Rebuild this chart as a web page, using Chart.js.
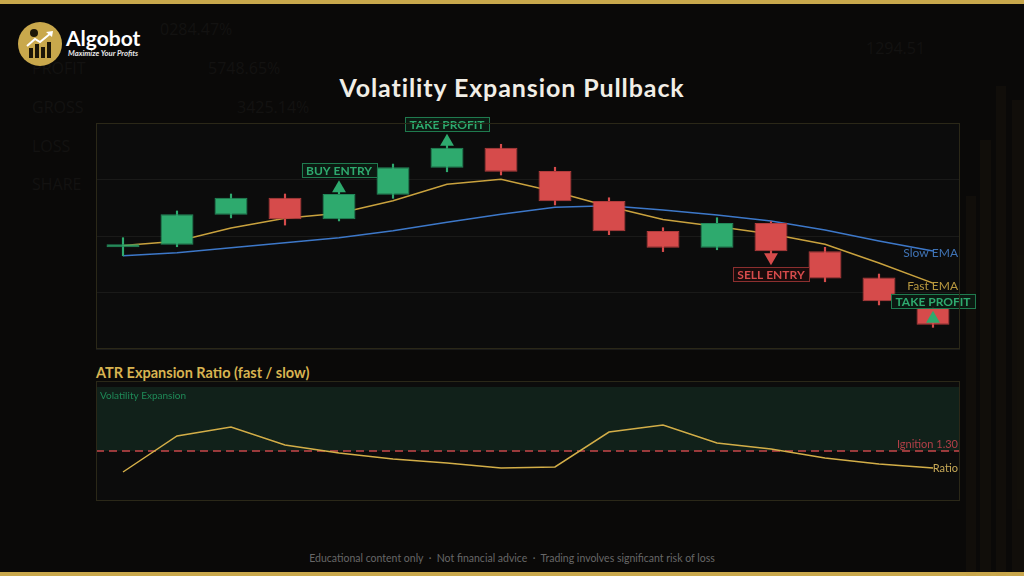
<!DOCTYPE html>
<html>
<head>
<meta charset="utf-8">
<script src="https://cdn.jsdelivr.net/npm/chart.js@4.4.0/dist/chart.umd.min.js"></script>
<style>
  html, body { margin: 0; padding: 0; }
  body {
    width: 1024px; height: 576px; overflow: hidden; position: relative;
    background: #0a0908; font-family: Lato, 'Open Sans', sans-serif;
  }
  .gold-strip { position: absolute; left: 0; width: 1024px; height: 4px; background: #c9a84c; }
  .ghost { position: absolute; color: #131211; font-family: 'Open Sans', sans-serif; font-size: 16px; }
  .bgbar { position: absolute; background: rgba(190, 150, 60, 0.045); }
  #logo { position: absolute; left: 18px; top: 22px; }
  #brand { position: absolute; left: 66px; top: 26px; color: #fff; font-weight: bold; font-size: 21px; line-height: 24px; }
  #tagline { position: absolute; left: 68px; top: 48px; color: #e8e8e8; font-weight: bold; font-style: italic; font-size: 7.7px; line-height: 10px; }
  #title { position: absolute; left: 0; width: 1024px; top: 72px; text-align: center; color: #f1eee6; font-weight: bold; font-size: 25px; letter-spacing: 0.9px; line-height: 30px; }
  #subtitle { position: absolute; left: 96px; top: 364px; color: #d8b451; font-weight: bold; font-size: 14.5px; line-height: 18px; }
  #footer { position: absolute; left: 0; width: 1024px; top: 551px; text-align: center; color: #676767; font-size: 10.5px; line-height: 14px; white-space: pre; }
  canvas { position: absolute; left: 0; }
</style>
</head>
<body>
<div class="gold-strip" style="top:0"></div>
<div class="gold-strip" style="top:572px"></div>

<div class="ghost" style="left:160px;top:18px">0284.47%</div>
<div class="ghost" style="left:32px;top:57px">PROFIT</div>
<div class="ghost" style="left:208px;top:57px">5748.65%</div>
<div class="ghost" style="left:32px;top:96px">GROSS</div>
<div class="ghost" style="left:237px;top:96px">3425.14%</div>
<div class="ghost" style="left:32px;top:135px">LOSS</div>
<div class="ghost" style="left:32px;top:173px">SHARE</div>
<div class="ghost" style="left:866px;top:37px">1294.51</div>
<div class="bgbar" style="left:966px;top:196px;width:10px;height:380px"></div>
<div class="bgbar" style="left:980px;top:140px;width:11px;height:436px"></div>
<div class="bgbar" style="left:996px;top:86px;width:10px;height:490px"></div>
<div class="bgbar" style="left:1012px;top:100px;width:12px;height:476px"></div>

<svg id="logo" width="44" height="44" viewBox="0 0 44 44">
  <circle cx="22" cy="22" r="22" fill="#c9a84c"/>
  <rect x="11" y="26" width="4" height="10" fill="#1c1608"/>
  <rect x="17" y="22" width="4" height="14" fill="#1c1608"/>
  <rect x="23" y="25" width="4" height="11" fill="#1c1608"/>
  <rect x="29" y="20" width="4" height="16" fill="#1c1608"/>
  <polyline points="9,24 17,17 22,20 33,11" fill="none" stroke="#fff" stroke-width="2"/>
  <polygon points="35,9 28,10 34,15" fill="#fff"/>
  <circle cx="16" cy="11" r="4" fill="#1c1608"/>
</svg>
<div id="brand">Algobot</div>
<div id="tagline">Maximize Your Profits</div>

<div id="title">Volatility Expansion Pullback</div>
<canvas id="priceChart" width="1024" height="250" style="top:110px"></canvas>
<div id="subtitle">ATR Expansion Ratio (fast / slow)</div>
<canvas id="ratioChart" width="1024" height="130" style="top:376px"></canvas>
<div id="footer">Educational content only  ·  Not financial advice  ·  Trading involves significant risk of loss</div>

<script>
'use strict';

// candles
const barLabels = ['1', '2', '3', '4', '5', '6', '7', '8', '9', '10', '11', '12', '13', '14', '15', '16'];
const openVals  = [105.40, 105.54, 107.13, 108.03, 106.89, 108.19, 109.63, 110.69, 109.45, 107.86, 106.27, 105.38, 106.69, 105.19, 103.79, 102.19];
const highVals  = [105.91, 107.33, 108.23, 108.23, 108.39, 109.82, 110.83, 110.87, 109.65, 108.03, 106.44, 106.97, 106.76, 105.40, 103.98, 102.39];
const lowVals   = [104.95, 105.43, 106.96, 106.58, 106.80, 108.00, 109.41, 109.24, 107.65, 106.07, 105.17, 105.27, 105.04, 103.57, 102.34, 101.15];
const closeVals = [105.56, 107.15, 108.03, 106.89, 108.23, 109.65, 110.69, 109.41, 107.84, 106.25, 105.38, 106.69, 105.19, 103.75, 102.53, 101.29];

// moving averages
const fastEma = [105.49, 105.72, 106.42, 106.94, 107.21, 107.87, 108.75, 109.01, 108.35, 107.57, 106.88, 106.50, 106.11, 105.56, 104.57, 103.50];
const slowEma = [104.95, 105.11, 105.38, 105.64, 105.91, 106.28, 106.73, 107.15, 107.52, 107.61, 107.38, 107.12, 106.80, 106.32, 105.73, 105.20];

// signals
const signalBar   = [4, 6, 12, 15];
const signalText  = ['BUY ENTRY', 'TAKE PROFIT', 'SELL ENTRY', 'TAKE PROFIT'];
const signalDir   = ['up', 'up', 'down', 'up'];
const signalPrice = [108.53, 111.00, 104.87, 101.60];

// ATR ratio panel
const atrRatio = [1.09, 1.45, 1.54, 1.36, 1.28, 1.22, 1.18, 1.13, 1.14, 1.49, 1.56, 1.38, 1.32, 1.23, 1.17, 1.13];
const ignitionLevel = 1.30;
const expansionTop = 1.94;

const GREEN = '#2eaa6e', GREEN_EDGE = '#23875a';
const RED = '#d64b4b', RED_EDGE = '#b13c3c';
const FONT = 'Lato, "Open Sans", sans-serif';

const isUp = barLabels.map((_, i) => closeVals[i] >= openVals[i]);
const markerData = barLabels.map(() => null);
signalBar.forEach((b, k) => { markerData[b] = signalPrice[k]; });
const markerColor = barLabels.map(() => GREEN);
const markerRot = barLabels.map(() => 0);
signalBar.forEach((b, k) => {
  markerColor[b] = signalDir[k] === 'up' ? GREEN : RED;
  markerRot[b] = signalDir[k] === 'up' ? 0 : 180;
});

const panelFrame = {
  id: 'panelFrame',
  beforeDraw(chart) {
    const { ctx, chartArea: a } = chart;
    ctx.save();
    ctx.fillStyle = '#0c0c0c';
    ctx.fillRect(a.left, a.top, a.right - a.left, a.bottom - a.top);
    ctx.restore();
  },
  afterDraw(chart) {
    const { ctx, chartArea: a } = chart;
    ctx.save();
    ctx.strokeStyle = '#2b2818';
    ctx.lineWidth = 1;
    ctx.strokeRect(a.left + 0.5, a.top + 0.5, a.right - a.left - 1, a.bottom - a.top - 1);
    ctx.restore();
  }
};

const priceLabels = {
  id: 'priceLabels',
  afterDatasetsDraw(chart) {
    const { ctx, chartArea: a } = chart;
    ctx.save();
    // line end labels
    ctx.font = '12px ' + FONT;
    ctx.textAlign = 'right';
    ctx.textBaseline = 'middle';
    const slowPts = chart.getDatasetMeta(3).data;
    const fastPts = chart.getDatasetMeta(2).data;
    ctx.fillStyle = '#3f73b5';
    ctx.fillText('Slow EMA', a.right - 2, slowPts[slowPts.length - 1].y + 2);
    ctx.fillStyle = '#b8983f';
    ctx.fillText('Fast EMA', a.right - 2, fastPts[fastPts.length - 1].y + 3);

    // signal tags
    ctx.font = 'bold 12px ' + FONT;
    ctx.textAlign = 'center';
    const marks = chart.getDatasetMeta(0).data;
    signalBar.forEach((b, k) => {
      const p = marks[b];
      const up = signalDir[k] === 'up';
      const w = ctx.measureText(signalText[k]).width + 9;
      const h = 14;
      const top = up ? p.y - 8 - 3 - h : p.y + 8 + 2;
      ctx.fillStyle = up ? '#0c1a12' : '#1a0c0c';
      ctx.fillRect(p.x - w / 2, top, w, h);
      ctx.strokeStyle = up ? '#1f7a4e' : '#8c2f2f';
      ctx.lineWidth = 1;
      ctx.strokeRect(Math.round(p.x - w / 2) + 0.5, Math.round(top) + 0.5, Math.round(w), h);
      ctx.fillStyle = up ? GREEN : RED;
      ctx.fillText(signalText[k], p.x, top + h / 2 + 1);
    });
    ctx.restore();
  }
};

new Chart(document.getElementById('priceChart'), {
  type: 'bar',
  data: {
    labels: barLabels,
    datasets: [
      {
        type: 'line', label: 'Signals', data: markerData, order: 0,
        showLine: false, pointStyle: 'triangle', pointRadius: 8,
        pointRotation: markerRot, pointBackgroundColor: markerColor, pointBorderWidth: 0
      },
      {
        label: 'Body', data: barLabels.map((_, i) => [openVals[i], closeVals[i]]), order: 1,
        grouped: false, barPercentage: 0.61, categoryPercentage: 1,
        backgroundColor: isUp.map(u => u ? GREEN : RED),
        borderColor: isUp.map(u => u ? GREEN_EDGE : RED_EDGE),
        borderWidth: 1, borderSkipped: false
      },
      {
        type: 'line', label: 'Fast EMA', data: fastEma, order: 3,
        borderColor: '#c9a23e', borderWidth: 1.5, pointRadius: 0, tension: 0
      },
      {
        type: 'line', label: 'Slow EMA', data: slowEma, order: 4,
        borderColor: '#3d78c9', borderWidth: 1.5, pointRadius: 0, tension: 0
      },
      {
        label: 'Wick', data: barLabels.map((_, i) => [lowVals[i], highVals[i]]), order: 2,
        grouped: false, barThickness: 1.5,
        backgroundColor: isUp.map(u => u ? GREEN : RED)
      }
    ]
  },
  options: {
    responsive: false,
    animation: false,
    layout: { padding: { left: 96, right: 64, top: 13, bottom: 11 } },
    plugins: { legend: { display: false }, tooltip: { enabled: false } },
    scales: {
      x: { display: false, offset: true },
      y: {
        min: 100, max: 112,
        ticks: { display: false, stepSize: 3 },
        grid: { color: '#1a1a19', drawTicks: false },
        border: { display: false },
        afterFit: s => { s.width = 0; }
      }
    }
  },
  plugins: [panelFrame, priceLabels]
});

const ratioDecor = {
  id: 'ratioDecor',
  beforeDatasetsDraw(chart) {
    const { ctx, chartArea: a, scales: { y } } = chart;
    const yIgn = y.getPixelForValue(ignitionLevel);
    const yTop = y.getPixelForValue(expansionTop);
    ctx.save();
    ctx.fillStyle = '#11211a';
    ctx.fillRect(a.left, yTop, a.right - a.left, yIgn - yTop);
    ctx.strokeStyle = '#c8464a';
    ctx.lineWidth = 1.5;
    ctx.setLineDash([8, 5]);
    ctx.beginPath();
    ctx.moveTo(a.left, yIgn);
    ctx.lineTo(a.right, yIgn);
    ctx.stroke();
    ctx.setLineDash([]);
    ctx.font = '10px ' + FONT;
    ctx.textAlign = 'left';
    ctx.textBaseline = 'middle';
    ctx.fillStyle = '#1f8a58';
    ctx.fillText('Volatility Expansion', a.left + 4, yTop + 9);
    ctx.font = '11px ' + FONT;
    ctx.textAlign = 'right';
    ctx.textBaseline = 'alphabetic';
    ctx.fillStyle = '#b23f47';
    ctx.fillText('Ignition ' + ignitionLevel.toFixed(2), a.right - 2, yIgn - 3);
    ctx.restore();
  },
  afterDatasetsDraw(chart) {
    const { ctx, chartArea: a } = chart;
    const pts = chart.getDatasetMeta(0).data;
    ctx.save();
    ctx.font = '11px ' + FONT;
    ctx.textAlign = 'right';
    ctx.textBaseline = 'middle';
    ctx.fillStyle = '#c8aa58';
    ctx.fillText('Ratio', a.right - 2, pts[pts.length - 1].y);
    ctx.restore();
  }
};

new Chart(document.getElementById('ratioChart'), {
  type: 'line',
  data: {
    labels: barLabels,
    datasets: [{
      label: 'Ratio', data: atrRatio,
      borderColor: '#d3ae48', borderWidth: 1.5, pointRadius: 0, tension: 0
    }]
  },
  options: {
    responsive: false,
    animation: false,
    layout: { padding: { left: 96, right: 64, top: 5, bottom: 5 } },
    plugins: { legend: { display: false }, tooltip: { enabled: false } },
    scales: {
      x: { display: false, offset: true },
      y: { display: false, min: 0.8, max: 2.0 }
    }
  },
  plugins: [panelFrame, ratioDecor]
});
</script>
</body>
</html>
